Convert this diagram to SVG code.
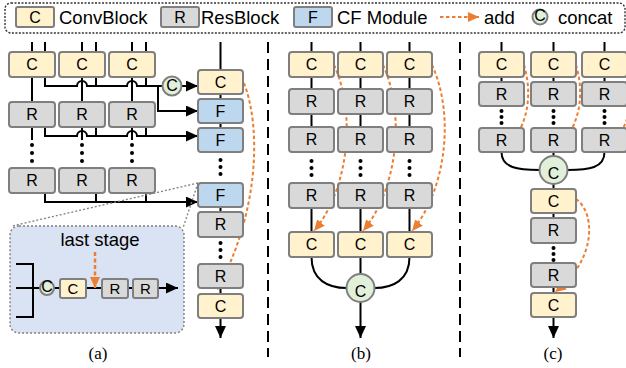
<svg xmlns="http://www.w3.org/2000/svg" width="626" height="368" viewBox="0 0 626 368">
<defs>
<style>
.c{fill:#fff2cc;stroke:#7f7f7f;stroke-width:2}
.r{fill:#d9d9d9;stroke:#7f7f7f;stroke-width:2}
.f{fill:#bdd7ee;stroke:#7f7f7f;stroke-width:2}
.cat{fill:#e2f0d9;stroke:#7f7f7f;stroke-width:2}
.ln{stroke:#000;stroke-width:2;fill:none}
.add{stroke:#ed7d31;stroke-width:2;stroke-dasharray:3.5 2.5;fill:none}
.t{font-family:"Liberation Sans",Arial,sans-serif;font-size:16px;text-anchor:middle;fill:#000}
.ts{font-family:"Liberation Sans",Arial,sans-serif;font-size:15px;text-anchor:middle;fill:#000}
.lg{font-family:"Liberation Sans",Arial,sans-serif;font-size:18.5px;fill:#000}
.cap{font-family:"Liberation Serif","Times New Roman",serif;font-size:17px;text-anchor:middle;fill:#000}
.zoom{stroke:#7f7f7f;stroke-width:1.3;stroke-dasharray:2 2;fill:none}
.sep{stroke:#000;stroke-width:2;stroke-dasharray:11 6;fill:none}
</style>
<marker id="ah" markerWidth="12" markerHeight="11" refX="12" refY="5.5" orient="auto" markerUnits="userSpaceOnUse"><path d="M0,0 L12,5.5 L0,11 z" fill="#000"/></marker>
<marker id="oh" markerWidth="11" markerHeight="10" refX="11" refY="5" orient="auto" markerUnits="userSpaceOnUse"><path d="M0,0 L11,5 L0,10 z" fill="#ed7d31"/></marker>
</defs>

<!-- Legend -->
<g id="legend">
<rect x="5" y="3" width="620" height="30" rx="6" fill="none" stroke="#333" stroke-width="1.4" stroke-dasharray="2 1.5"/>
<rect class="c" x="16" y="7" width="38" height="20" rx="2"/><text class="t" x="35" y="22.7">C</text>
<text class="lg" x="59" y="24">ConvBlock</text>
<rect class="r" x="161" y="7" width="38" height="20" rx="2"/><text class="t" x="180" y="22.7">R</text>
<text class="lg" x="201" y="24">ResBlock</text>
<rect class="f" x="294" y="7" width="38" height="20" rx="2"/><text class="t" x="313" y="22.7">F</text>
<text class="lg" x="337" y="24">CF Module</text>
<path class="add" d="M440,17 H479" stroke-width="2" marker-end="url(#oh)"/>
<text class="lg" x="484" y="24">add</text>
<circle class="cat" cx="540" cy="17" r="7.5" stroke-width="1.8"/><text class="t" x="540" y="21" font-size="11">C</text>
<text class="lg" x="558" y="24">concat</text>
</g>

<!-- separators -->
<g id="separators">
<path class="sep" d="M268,42 V357"/>
<path class="sep" d="M460,42 V357"/>
</g>

<!-- Connectors -->
<g id="connectors">
<!-- panel a -->
<path class="ln" d="M32,42V52 M45,42V52 M82,42V52 M96,42V52 M132,42V52 M146,42V52 M220.5,42V70"/>
<path class="ln" d="M32,77V102 M82,77V102 M132,77V102"/>
<path class="ln" d="M45,77V86 H77 A5,5 0 0 1 87,86 H127 A5,5 0 0 1 137,86 H162.5 M96,77V86 M146,77V86"/>
<path class="ln" d="M158,86 V111 H198" marker-end="url(#ah)"/>
<path class="ln" d="M181.5,86 H198" marker-end="url(#ah)"/>
<path class="ln" d="M32,127V140 M82,127V140 M132,127V140"/>
<path class="ln" d="M45,127V136 H77 A5,5 0 0 1 87,136 H127 A5,5 0 0 1 137,136 H198" marker-end="url(#ah)"/>
<path class="ln" d="M96,127V136 M146,127V136"/>
<path class="ln" d="M45,193V202 H198" marker-end="url(#ah)"/>
<path class="ln" d="M96,193V202 M146,193V202"/>
<path class="ln" d="M220.5,94V99 M220.5,123V128 M220.5,207V212 M220.5,288V294"/>
<path class="ln" d="M220.5,318V338" marker-end="url(#ah)"/>
<path class="add" d="M244,83 C262,130 258,215 217,290" marker-end="url(#oh)"/>
<path class="zoom" d="M198,183 L12,226 M198,183 L183,228"/>
<!-- panel b -->
<path class="ln" d="M311.5,42V52 M360.5,42V52 M409.5,42V52 M311.5,77V89 M360.5,77V89 M409.5,77V89 M311.5,114V127 M360.5,114V127 M409.5,114V127 M311.5,208V232 M360.5,208V232 M409.5,208V232"/>
<path class="ln" d="M311.5,257 C311.5,280 328,288 346.5,288 M409.5,257 C409.5,280 393,288 374.5,288 M360.5,257V274"/>
<path class="ln" d="M360.5,302V338" marker-end="url(#ah)"/>
<path class="add" d="M334,65 C357,115 348,190 314,231" marker-end="url(#oh)"/>
<path class="add" d="M383,65 C406,115 397,190 363,231" marker-end="url(#oh)"/>
<path class="add" d="M432,65 C455,115 446,190 412,231" marker-end="url(#oh)"/>
<!-- panel c -->
<path class="ln" d="M501.5,42V52 M553.5,42V52 M604.5,42V52 M501.5,77V82 M553.5,77V82 M604.5,77V82"/>
<path class="ln" d="M501.5,152 C501.5,168 518,170 539.5,170 M604.5,152 C604.5,168 589,170 567.5,170 M553.5,152V156 M553.5,184V189 M553.5,213V218 M553.5,287V293"/>
<path class="ln" d="M553.5,317V338" marker-end="url(#ah)"/>
<path class="add" d="M524,65 C532,92 530,125 505,150" marker-end="url(#oh)"/>
<path class="add" d="M576,65 C584,92 582,125 556,150" marker-end="url(#oh)"/>
<path class="add" d="M627,65 C635,92 633,125 607,150" marker-end="url(#oh)"/>
<path class="add" d="M576,199 C597,214 595,262 555,292" marker-end="url(#oh)"/>
</g>

<!-- Panel a nodes -->
<g id="a_c1"><rect class="c" x="9" y="52" width="46" height="25" rx="3"/><text class="t" x="32" y="70.2">C</text></g>
<g id="a_c2"><rect class="c" x="59" y="52" width="46" height="25" rx="3"/><text class="t" x="82" y="70.2">C</text></g>
<g id="a_c3"><rect class="c" x="109" y="52" width="46" height="25" rx="3"/><text class="t" x="132" y="70.2">C</text></g>
<g id="a_r11"><rect class="r" x="9" y="102" width="46" height="25" rx="3"/><text class="t" x="32" y="120.2">R</text></g>
<g id="a_r12"><rect class="r" x="59" y="102" width="46" height="25" rx="3"/><text class="t" x="82" y="120.2">R</text></g>
<g id="a_r13"><rect class="r" x="109" y="102" width="46" height="25" rx="3"/><text class="t" x="132" y="120.2">R</text></g>
<g id="a_dots" fill="#000">
<circle cx="32" cy="145" r="2"/><circle cx="32" cy="153" r="2"/><circle cx="32" cy="161" r="2"/>
<circle cx="82" cy="145" r="2"/><circle cx="82" cy="153" r="2"/><circle cx="82" cy="161" r="2"/>
<circle cx="132" cy="145" r="2"/><circle cx="132" cy="153" r="2"/><circle cx="132" cy="161" r="2"/>
</g>
<g id="a_r21"><rect class="r" x="9" y="168" width="46" height="25" rx="3"/><text class="t" x="32" y="186.2">R</text></g>
<g id="a_r22"><rect class="r" x="59" y="168" width="46" height="25" rx="3"/><text class="t" x="82" y="186.2">R</text></g>
<g id="a_r23"><rect class="r" x="109" y="168" width="46" height="25" rx="3"/><text class="t" x="132" y="186.2">R</text></g>
<g id="a_cat"><circle class="cat" cx="172" cy="86" r="9.5"/><text class="t" x="172" y="91" font-size="14">C</text></g>
<g id="a_cout1"><rect class="c" x="198" y="70" width="45" height="24" rx="3"/><text class="t" x="220.5" y="87.7">C</text></g>
<g id="a_f1"><rect class="f" x="198" y="99" width="45" height="24" rx="3"/><text class="t" x="220.5" y="116.7">F</text></g>
<g id="a_f2"><rect class="f" x="198" y="128" width="45" height="24" rx="3"/><text class="t" x="220.5" y="145.7">F</text></g>
<g id="a_rdots1" fill="#000"><circle cx="220.5" cy="160" r="2"/><circle cx="220.5" cy="167" r="2"/><circle cx="220.5" cy="174" r="2"/></g>
<g id="a_f3"><rect class="f" x="198" y="183" width="45" height="24" rx="3"/><text class="t" x="220.5" y="200.7">F</text></g>
<g id="a_r1"><rect class="r" x="198" y="212" width="45" height="25" rx="3"/><text class="t" x="220.5" y="230.2">R</text></g>
<g id="a_rdots2" fill="#000"><circle cx="220.5" cy="243" r="2"/><circle cx="220.5" cy="250" r="2"/><circle cx="220.5" cy="257" r="2"/></g>
<g id="a_r2"><rect class="r" x="198" y="264" width="45" height="24" rx="3"/><text class="t" x="220.5" y="281.7">R</text></g>
<g id="a_cout2"><rect class="c" x="198" y="294" width="45" height="24" rx="3"/><text class="t" x="220.5" y="311.7">C</text></g>

<!-- inset -->
<g id="a_inset">
<rect x="10" y="226" width="174" height="107" rx="9" fill="#dae3f3" stroke="#7f7f7f" stroke-width="1.4" stroke-dasharray="2 2"/>
<text class="lg" x="100" y="246" text-anchor="middle">last stage</text>
<path class="ln" d="M16,264 H33 V317 H16 M16,288 H40 M54,288 H60 M86,288 H102 M128,288 H133"/>
<path class="ln" d="M158,288 H178" marker-end="url(#ah)"/>
<circle class="cat" cx="47" cy="288" r="7" stroke-width="1.8"/><text class="t" x="47" y="292" font-size="11">C</text>
<rect class="c" x="60" y="279" width="26" height="19" rx="2"/><text class="ts" x="73" y="294">C</text>
<rect class="r" x="102" y="279" width="26" height="19" rx="2"/><text class="ts" x="115" y="294">R</text>
<rect class="r" x="133" y="279" width="25" height="19" rx="2"/><text class="ts" x="145.5" y="294">R</text>
<path d="M95,252 V288" stroke="#ed7d31" stroke-width="2.5" stroke-dasharray="4 2.5" fill="none" marker-end="url(#oh)"/>
</g>

<!-- Panel b nodes -->
<g id="b_c1"><rect class="c" x="289" y="52" width="45" height="25" rx="3"/><text class="t" x="311.5" y="70.2">C</text></g>
<g id="b_c2"><rect class="c" x="338" y="52" width="45" height="25" rx="3"/><text class="t" x="360.5" y="70.2">C</text></g>
<g id="b_c3"><rect class="c" x="387" y="52" width="45" height="25" rx="3"/><text class="t" x="409.5" y="70.2">C</text></g>
<g id="b_r11"><rect class="r" x="289" y="89" width="45" height="25" rx="3"/><text class="t" x="311.5" y="107.2">R</text></g>
<g id="b_r12"><rect class="r" x="338" y="89" width="45" height="25" rx="3"/><text class="t" x="360.5" y="107.2">R</text></g>
<g id="b_r13"><rect class="r" x="387" y="89" width="45" height="25" rx="3"/><text class="t" x="409.5" y="107.2">R</text></g>
<g id="b_r21"><rect class="r" x="289" y="127" width="45" height="25" rx="3"/><text class="t" x="311.5" y="145.2">R</text></g>
<g id="b_r22"><rect class="r" x="338" y="127" width="45" height="25" rx="3"/><text class="t" x="360.5" y="145.2">R</text></g>
<g id="b_r23"><rect class="r" x="387" y="127" width="45" height="25" rx="3"/><text class="t" x="409.5" y="145.2">R</text></g>
<g id="b_dots" fill="#000">
<circle cx="311.5" cy="161" r="2"/><circle cx="311.5" cy="168" r="2"/><circle cx="311.5" cy="175" r="2"/>
<circle cx="360.5" cy="161" r="2"/><circle cx="360.5" cy="168" r="2"/><circle cx="360.5" cy="175" r="2"/>
<circle cx="409.5" cy="161" r="2"/><circle cx="409.5" cy="168" r="2"/><circle cx="409.5" cy="175" r="2"/>
</g>
<g id="b_r31"><rect class="r" x="289" y="183" width="45" height="25" rx="3"/><text class="t" x="311.5" y="201.2">R</text></g>
<g id="b_r32"><rect class="r" x="338" y="183" width="45" height="25" rx="3"/><text class="t" x="360.5" y="201.2">R</text></g>
<g id="b_r33"><rect class="r" x="387" y="183" width="45" height="25" rx="3"/><text class="t" x="409.5" y="201.2">R</text></g>
<g id="b_c41"><rect class="c" x="289" y="232" width="45" height="25" rx="3"/><text class="t" x="311.5" y="250.2">C</text></g>
<g id="b_c42"><rect class="c" x="338" y="232" width="45" height="25" rx="3"/><text class="t" x="360.5" y="250.2">C</text></g>
<g id="b_c43"><rect class="c" x="387" y="232" width="45" height="25" rx="3"/><text class="t" x="409.5" y="250.2">C</text></g>
<g id="b_cat"><circle class="cat" cx="360.5" cy="288" r="14"/><text class="t" x="360.5" y="297" font-size="25">C</text></g>

<!-- Panel c nodes -->
<g id="c_c1"><rect class="c" x="479" y="52" width="45" height="25" rx="3"/><text class="t" x="501.5" y="70.2">C</text></g>
<g id="c_c2"><rect class="c" x="531" y="52" width="45" height="25" rx="3"/><text class="t" x="553.5" y="70.2">C</text></g>
<g id="c_c3"><rect class="c" x="582" y="52" width="45" height="25" rx="3"/><text class="t" x="604.5" y="70.2">C</text></g>
<g id="c_r11"><rect class="r" x="479" y="82" width="45" height="24" rx="3"/><text class="t" x="501.5" y="99.7">R</text></g>
<g id="c_r12"><rect class="r" x="531" y="82" width="45" height="24" rx="3"/><text class="t" x="553.5" y="99.7">R</text></g>
<g id="c_r13"><rect class="r" x="582" y="82" width="45" height="24" rx="3"/><text class="t" x="604.5" y="99.7">R</text></g>
<g id="c_dots" fill="#000">
<circle cx="501.5" cy="111" r="2"/><circle cx="501.5" cy="117" r="2"/><circle cx="501.5" cy="123" r="2"/>
<circle cx="553.5" cy="111" r="2"/><circle cx="553.5" cy="117" r="2"/><circle cx="553.5" cy="123" r="2"/>
<circle cx="604.5" cy="111" r="2"/><circle cx="604.5" cy="117" r="2"/><circle cx="604.5" cy="123" r="2"/>
</g>
<g id="c_r21"><rect class="r" x="479" y="128" width="45" height="24" rx="3"/><text class="t" x="501.5" y="145.7">R</text></g>
<g id="c_r22"><rect class="r" x="531" y="128" width="45" height="24" rx="3"/><text class="t" x="553.5" y="145.7">R</text></g>
<g id="c_r23"><rect class="r" x="582" y="128" width="45" height="24" rx="3"/><text class="t" x="604.5" y="145.7">R</text></g>
<g id="c_cat"><circle class="cat" cx="553.5" cy="170" r="14"/><text class="t" x="553.5" y="179" font-size="25">C</text></g>
<g id="c_c4"><rect class="c" x="531" y="189" width="45" height="24" rx="3"/><text class="t" x="553.5" y="206.7">C</text></g>
<g id="c_r3"><rect class="r" x="531" y="218" width="45" height="25" rx="3"/><text class="t" x="553.5" y="236.2">R</text></g>
<g id="c_dots2" fill="#000"><circle cx="553.5" cy="248" r="2"/><circle cx="553.5" cy="254" r="2"/><circle cx="553.5" cy="260" r="2"/></g>
<g id="c_r4"><rect class="r" x="531" y="263" width="45" height="24" rx="3"/><text class="t" x="553.5" y="280.7">R</text></g>
<g id="c_c5"><rect class="c" x="531" y="293" width="45" height="24" rx="3"/><text class="t" x="553.5" y="310.7">C</text></g>

<!-- captions -->
<text class="cap" x="98" y="359">(a)</text>
<text class="cap" x="361" y="359">(b)</text>
<text class="cap" x="553" y="359">(c)</text>
</svg>
